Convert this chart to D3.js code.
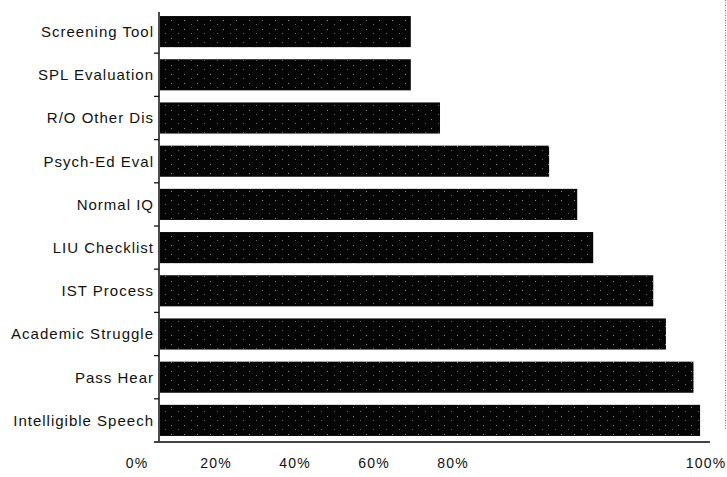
<!DOCTYPE html>
<html>
<head>
<meta charset="utf-8">
<script src="https://cdn.jsdelivr.net/npm/d3@7"></script>
<style>
  body { margin: 0; background: #fff; }
  text { font-family: "Liberation Sans", Arial, sans-serif; fill: #111; }
</style>
</head>
<body>
<svg id="chart"></svg>
<script>
// criteria, top to bottom
var criteria = ["Screening Tool", "SPL Evaluation", "R/O Other Dis", "Psych-Ed Eval", "Normal IQ",
                "LIU Checklist", "IST Process", "Academic Struggle", "Pass Hear", "Intelligible Speech"];
// percent of respondents
var percents = [45.7, 45.7, 51, 70.8, 75.9, 78.8, 89.7, 92, 97, 98.2];
var tickValues = [0, 20, 40, 60, 80, 100];
var tickLabels = ["0%", "20%", "40%", "60%", "80%", "100%"];

var width = 727, height = 477;
var margin = { top: 10, left: 159, bottom: 35, right: 17 };

var svg = d3.select("#chart")
            .attr("width", width)
            .attr("height", height);

var x = d3.scaleLinear().domain([0, 100]).range([margin.left, width - margin.right]);
var y = d3.scaleBand().domain(criteria)
          .range([margin.top, height - margin.bottom])
          .paddingInner(0.28).paddingOuter(0.14);

// the printed tick labels do not sit under the bar scale, so they get their own scale
var xLabel = d3.scaleLinear().domain([0, 80, 100])
               .range([x(0) - 22, x(0) + 294, x(100) - 4]);

// speckle texture of the scanned bars
var defs = svg.append("defs");
var pat = defs.append("pattern")
    .attr("id", "speckle")
    .attr("width", 13).attr("height", 9)
    .attr("patternUnits", "userSpaceOnUse");
pat.append("rect").attr("width", 13).attr("height", 9).attr("fill", "#050505");
pat.append("rect").attr("x", 2).attr("y", 2).attr("width", 1).attr("height", 1).attr("fill", "#8a8a8a");
pat.append("rect").attr("x", 9).attr("y", 6).attr("width", 1).attr("height", 1).attr("fill", "#6a6a6a");

svg.selectAll(".bar")
    .data(criteria)
    .enter()
    .append("rect")
    .attr("class", "bar")
    .attr("x", x(0) + 1)
    .attr("y", function (d) { return y(d); })
    .attr("width", function (d, i) { return x(percents[i]) - x(0) - 1; })
    .attr("height", y.bandwidth())
    .attr("fill", "url(#speckle)");

// category labels
svg.selectAll(".cat")
    .data(criteria)
    .enter()
    .append("text")
    .attr("class", "cat")
    .attr("x", x(0) - 5)
    .attr("y", function (d) { return y(d) + y.bandwidth() / 2; })
    .attr("dy", "0.36em")
    .attr("text-anchor", "end")
    .style("font-size", "15px")
    .style("letter-spacing", "1px")
    .text(function (d) { return d; });

// small ticks between the bars on the left axis
var step = y.step();
svg.selectAll(".ytick")
    .data(criteria.slice(1))
    .enter()
    .append("line")
    .attr("x1", x(0) - 5).attr("x2", x(0))
    .attr("y1", function (d) { return y(d) - step * y.paddingInner() / 2; })
    .attr("y2", function (d) { return y(d) - step * y.paddingInner() / 2; })
    .attr("stroke", "#111").attr("stroke-width", 1.3);

// axis lines
svg.append("line")
    .attr("x1", x(0)).attr("x2", x(0))
    .attr("y1", margin.top + 2).attr("y2", height - margin.bottom)
    .attr("stroke", "#111").attr("stroke-width", 1.5);
svg.append("line")
    .attr("x1", x(0) - 5).attr("x2", x(100))
    .attr("y1", height - margin.bottom).attr("y2", height - margin.bottom)
    .attr("stroke", "#444").attr("stroke-width", 2);

// x tick labels
svg.selectAll(".xlab")
    .data(tickValues)
    .enter()
    .append("text")
    .attr("class", "xlab")
    .attr("x", function (d) { return xLabel(d); })
    .attr("y", height - 9)
    .attr("text-anchor", "middle")
    .style("font-size", "14px")
    .style("letter-spacing", "1.2px")
    .text(function (d, i) { return tickLabels[i]; });

// dotted page edge at the right
svg.append("line")
    .attr("x1", width - 1.5).attr("x2", width - 1.5)
    .attr("y1", 0).attr("y2", y(criteria[9]) + y.bandwidth() - 6)
    .attr("stroke", "#777").attr("stroke-width", 1)
    .attr("stroke-dasharray", "1,1.5");
</script>
</body>
</html>
